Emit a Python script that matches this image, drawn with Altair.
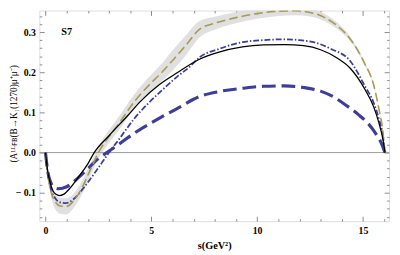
import altair as alt
import pandas as pd

# ---------------- data ----------------
gold_s = [0, 0.1, 0.25, 0.45, 0.7, 1.0, 1.3, 1.7, 2.1, 2.5, 3.0, 3.5, 4.2, 4.8, 5.5, 6.05, 6.6, 7.3,
          8.0, 9.0, 10.0, 11.0, 11.8, 12.5, 13.2, 13.8, 14.4, 15.1, 15.5, 15.75, 15.95, 16.04]
gold_v = [0, -0.05, -0.095, -0.122, -0.133, -0.134, -0.122, -0.09, -0.045, 0, 0.04, 0.075, 0.127, 0.163,
          0.2, 0.232, 0.265, 0.308, 0.322, 0.336, 0.346, 0.352, 0.353, 0.349, 0.336, 0.315, 0.283, 0.22,
          0.17, 0.11, 0.05, 0]
band_half = [0, 0.006, 0.012, 0.018, 0.02, 0.02, 0.018, 0.016, 0.015, 0.015, 0.016, 0.017, 0.018, 0.02,
             0.022, 0.025, 0.025, 0.02, 0.016, 0.014, 0.013, 0.012, 0.011, 0.01, 0.009, 0.008, 0.006,
             0.004, 0.003, 0.002, 0.001, 0]

black_s = [0, 0.1, 0.2, 0.35, 0.5, 0.65, 0.85, 1.2, 1.6, 2.0, 2.3, 3.0, 3.9, 4.5, 5.4, 6.2, 7.3,
           8.2, 9.3, 10.3, 11.3, 12.2, 13.0, 13.7, 14.4, 15.1, 15.5, 15.75, 15.95, 16.04]
black_v = [0, -0.045, -0.072, -0.095, -0.104, -0.107, -0.104, -0.086, -0.058, -0.028, 0, 0.042, 0.093,
           0.128, 0.17, 0.198, 0.233, 0.25, 0.263, 0.268, 0.269, 0.266, 0.256, 0.238, 0.21, 0.157,
           0.115, 0.075, 0.032, 0]

dd_s = [0, 0.1, 0.25, 0.45, 0.7, 0.95, 1.3, 1.8, 2.4, 3.0, 3.5, 4.2, 4.9, 5.5, 6.2, 6.8, 7.3,
        8.2, 9.3, 10.3, 11.2, 12.0, 12.8, 13.5, 14.4, 15.1, 15.5, 15.75, 15.95, 16.04]
dd_v = [0, -0.05, -0.09, -0.113, -0.124, -0.126, -0.117, -0.088, -0.045, 0, 0.035, 0.085, 0.125,
        0.155, 0.188, 0.213, 0.238, 0.258, 0.275, 0.28, 0.282, 0.28, 0.273, 0.258, 0.228, 0.165,
        0.125, 0.085, 0.04, 0]

thick_s = [0, 0.1, 0.25, 0.45, 0.6, 1.0, 1.5, 2.0, 2.5, 2.9, 3.5, 4.3, 5.2, 6.2, 7.3,
           8.2, 9.3, 10.3, 11.3, 12.2, 13.0, 13.6, 14.2, 14.8, 15.2, 15.6, 15.85, 16.04]
thick_v = [0, -0.045, -0.075, -0.088, -0.09, -0.085, -0.065, -0.04, -0.015, 0, 0.022, 0.052, 0.08,
           0.109, 0.14, 0.152, 0.16, 0.165, 0.166, 0.162, 0.153, 0.139, 0.118, 0.094, 0.075, 0.048,
           0.026, 0]

label_text = ["S7"]
label_s = [1.0]
label_v = [0.3]

x_major = [0, 5, 10, 15]
x_minor = [1, 2, 3, 4, 6, 7, 8, 9, 11, 12, 13, 14, 16]
y_major = [-0.1, 0.0, 0.1, 0.2, 0.3]
y_minor = [-0.16, -0.14, -0.12, -0.08, -0.06, -0.04, -0.02, 0.02, 0.04, 0.06, 0.08, 0.12, 0.14,
           0.16, 0.18, 0.22, 0.24, 0.26, 0.28, 0.32, 0.34]

X_DOMAIN = [-0.292, 16.236]
Y_DOMAIN = [-0.1707, 0.3537]

SERIF = "Liberation Serif"
TICK = "#8a8a8a"
BLUE = "#3e3e98"
GOLD = "#a69a55"

xs = alt.Scale(domain=X_DOMAIN, nice=False, zero=False)
ys = alt.Scale(domain=Y_DOMAIN, nice=False, zero=False)


def ax(orient, values, size, labels=False, **kw):
    return alt.Axis(orient=orient, values=values, offset=-size, tickSize=size, domain=False,
                    grid=False, labels=labels, tickColor=TICK, tickWidth=1, **kw)


x_main = ax("bottom", x_major, 5, labels=True, format="d", labelPadding=5, labelFont=SERIF,
            labelFontWeight="bold", labelFontSize=10, labelColor="black",
            title="s(GeV²)", titleFont=SERIF, titleFontWeight="bold", titleFontSize=10.5,
            titleColor="black", titlePadding=5)
y_main = ax("left", y_major, 5, labels=True, labelPadding=4, labelFont=SERIF,
            labelFontWeight="bold", labelFontSize=10, labelColor="black",
            labelExpr="datum.value < 0 ? '\u2212 ' + format(abs(datum.value), '.1f') : format(datum.value, '.1f')",
            title="(Aᴸᴸꜰʙ(B→K₁(1270)μ⁺μ⁻)", titleFont=SERIF, titleFontWeight="normal",
            titleFontSize=9.5, titleColor="black", titleX=-26, titleY=105, titleAngle=270,
            titleAlign="center", titleBaseline="bottom")
x_top = ax("top", x_major, 5, title=None)
y_right = ax("right", y_major, 5, title=None)
x_minor_b = ax("bottom", x_minor, 2.5, title=None)
y_minor_l = ax("left", y_minor, 2.5, title=None)
x_minor_t = ax("top", x_minor, 2.5, title=None)
y_minor_r = ax("right", y_minor, 2.5, title=None)

band_df = pd.DataFrame({"s": gold_s,
                        "lo": [v - h for v, h in zip(gold_v, band_half)],
                        "hi": [v + h for v, h in zip(gold_v, band_half)]})

band = alt.Chart(band_df).mark_area(color="#dadada", opacity=0.85, interpolate="monotone", clip=True).encode(
    x=alt.X("s:Q", scale=xs, axis=x_main),
    y=alt.Y("lo:Q", scale=ys, axis=y_main),
    y2="hi:Q",
)


def line(s, v, color, width, dash, xaxis, yaxis):
    kw = dict(color=color, strokeWidth=width, interpolate="monotone", clip=True)
    if dash:
        kw["strokeDash"] = dash
    return alt.Chart(pd.DataFrame({"s": s, "v": v})).mark_line(**kw).encode(
        x=alt.X("s:Q", scale=xs, axis=xaxis),
        y=alt.Y("v:Q", scale=ys, axis=yaxis),
    )


zero = alt.Chart(pd.DataFrame({"v": [0.0]})).mark_rule(color="#9a9a9a", strokeWidth=1).encode(
    y=alt.Y("v:Q", scale=ys, axis=None)
)

thick = line(thick_s, thick_v, BLUE, 3.2, [14, 6], None, None)
dd = line(dd_s, dd_v, BLUE, 1.8, [6, 2, 1.5, 2], x_minor_t, y_minor_r)
gold = line(gold_s, gold_v, GOLD, 1.6, [9, 4], x_top, y_right)
black = line(black_s, black_v, "black", 1.3, None, x_minor_b, y_minor_l)

label = alt.Chart(pd.DataFrame({"s": label_s, "v": label_v, "t": label_text})).mark_text(
    font=SERIF, fontWeight="bold", fontSize=10.5, color="black", align="center", baseline="middle"
).encode(
    x=alt.X("s:Q", scale=xs, axis=None),
    y=alt.Y("v:Q", scale=ys, axis=None),
    text="t:N",
)

chart = alt.layer(band, zero, thick, dd, gold, black, label).resolve_axis(
    x="independent", y="independent"
).properties(
    width=357, height=215,
    autosize=alt.AutoSizeParams(type="none"),
    padding={"left": 32, "top": 0, "right": 3, "bottom": 32},
).configure_view(stroke="#8a8a8a", strokeWidth=1).configure(background="white")

chart.save("out.html", embed_options={"renderer": "svg", "actions": False})
